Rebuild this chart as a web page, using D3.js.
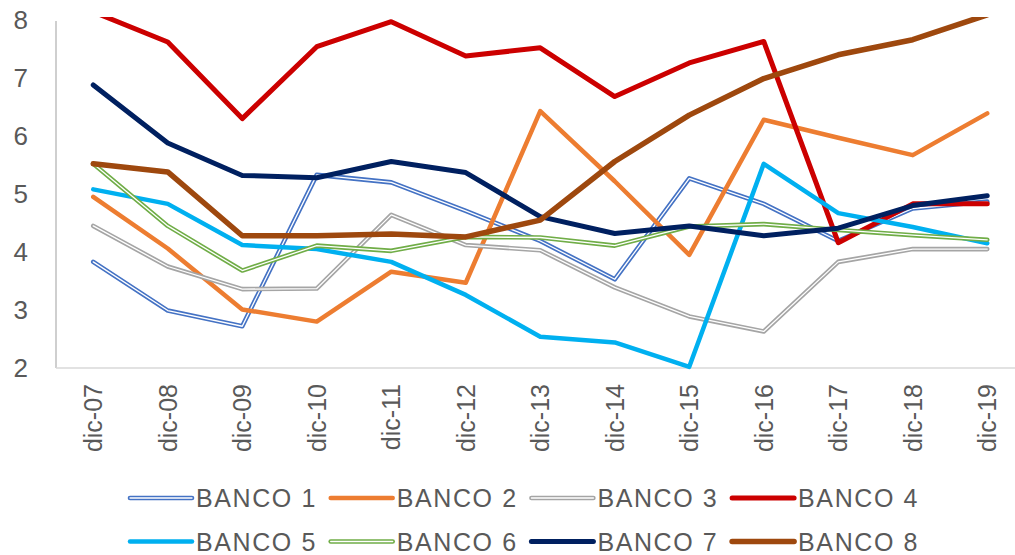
<!DOCTYPE html>
<html>
<head>
<meta charset="utf-8">
<script src="https://cdn.jsdelivr.net/npm/d3@7"></script>
<style>
  html, body { margin: 0; padding: 0; background: #fff; }
  svg { display: block; font-family: "Liberation Sans", Arial, sans-serif; }
</style>
</head>
<body>
<svg id="chart" width="1015" height="555"></svg>
<script>
// Periods (December of each year)
const periods = ["dic-07","dic-08","dic-09","dic-10","dic-11","dic-12","dic-13",
                 "dic-14","dic-15","dic-16","dic-17","dic-18","dic-19"];
const yTicks = [2, 3, 4, 5, 6, 7, 8];

const banco1 = [3.83, 2.99, 2.72, 5.33, 5.20, 4.71, 4.19, 3.53, 5.27, 4.83, 4.19, 4.75, 4.87];
const banco2 = [4.95, 4.06, 3.01, 2.80, 3.66, 3.47, 6.43, 5.22, 3.95, 6.28, 5.97, 5.67, 6.39];
const banco3 = [4.45, 3.75, 3.36, 3.37, 4.64, 4.12, 4.03, 3.39, 2.89, 2.63, 3.83, 4.05, 4.05];
const banco4 = [8.14, 7.62, 6.30, 7.54, 7.97, 7.38, 7.52, 6.68, 7.26, 7.63, 4.16, 4.83, 4.83];
const banco5 = [5.08, 4.83, 4.12, 4.05, 3.83, 3.26, 2.54, 2.44, 2.02, 5.52, 4.67, 4.43, 4.15];
const banco6 = [5.52, 4.45, 3.68, 4.11, 4.02, 4.26, 4.25, 4.11, 4.44, 4.48, 4.38, 4.29, 4.21];
const banco7 = [6.88, 5.88, 5.32, 5.28, 5.56, 5.37, 4.61, 4.32, 4.45, 4.28, 4.41, 4.80, 4.97];
const banco8 = [5.52, 5.38, 4.28, 4.28, 4.31, 4.26, 4.55, 5.56, 6.36, 6.99, 7.40, 7.66, 8.09];

const series = [
  { name: "BANCO 1", values: banco1, color: "#4472C4", width: 4.6, double: true },
  { name: "BANCO 2", values: banco2, color: "#ED7D31", width: 4.5 },
  { name: "BANCO 3", values: banco3, color: "#A5A5A5", width: 4.6, double: true },
  { name: "BANCO 4", values: banco4, color: "#CC0000", width: 5 },
  { name: "BANCO 5", values: banco5, color: "#00B0F0", width: 4.5 },
  { name: "BANCO 6", values: banco6, color: "#70AD47", width: 4.6, double: true },
  { name: "BANCO 7", values: banco7, color: "#002060", width: 5 },
  { name: "BANCO 8", values: banco8, color: "#9E480E", width: 5.5 }
];

const svg = d3.select("#chart");
const plot = { left: 56, right: 1024.5, top: 20, bottom: 368 };

const x = d3.scaleBand().domain(periods).range([plot.left, plot.right]).padding(0);
const y = d3.scaleLinear().domain([2, 8]).range([plot.bottom, plot.top]);
const cx = d => x(d) + x.bandwidth() / 2;

// Clip lines to the plot area (slightly above the top tick)
svg.append("defs").append("clipPath").attr("id", "plotClip")
  .append("rect")
  .attr("x", plot.left).attr("y", plot.top - 3)
  .attr("width", plot.right - plot.left).attr("height", plot.bottom - plot.top + 10);

// Y axis
const yAxis = svg.append("g")
  .attr("transform", `translate(${plot.left},0)`)
  .call(d3.axisLeft(y).tickValues(yTicks).tickSize(0).tickPadding(28).tickFormat(d3.format("d")));
yAxis.select(".domain").attr("stroke", "#bfbfbf").attr("stroke-width", 1.5)
  .attr("d", `M0,${plot.top + 1}V${plot.bottom}`);
yAxis.selectAll("text").attr("fill", "#595959").style("font-size", "26px")
  .attr("font-family", "Liberation Sans, Arial, sans-serif");

// X axis
const xAxis = svg.append("g")
  .attr("transform", `translate(0,${plot.bottom})`)
  .call(d3.axisBottom(x).tickSize(0).tickPadding(0));
xAxis.select(".domain").attr("stroke", "#d9d9d9").attr("stroke-width", 1.5)
  .attr("d", `M${plot.left},0H1015`);
xAxis.selectAll("text")
  .attr("fill", "#595959").style("font-size", "25px")
  .attr("font-family", "Liberation Sans, Arial, sans-serif")
  .attr("text-anchor", "end")
  .attr("dy", null)
  .attr("y", 0)
  .attr("transform", "translate(9,16) rotate(-90)");

// Lines
const line = d3.line().x((d, i) => cx(periods[i])).y(d => y(d));
const lines = svg.append("g").attr("clip-path", "url(#plotClip)");
series.forEach(s => {
  lines.append("path")
    .attr("d", line(s.values))
    .attr("fill", "none")
    .attr("stroke", s.color)
    .attr("stroke-width", s.width)
    .attr("stroke-linejoin", "round")
    .attr("stroke-linecap", "round");
  if (s.double) {
    lines.append("path")
      .attr("d", line(s.values))
      .attr("fill", "none")
      .attr("stroke", "#fff")
      .attr("stroke-width", 1.3)
      .attr("stroke-linejoin", "round")
      .attr("stroke-linecap", "round");
  }
});

// Legend: two rows of four entries
const legend = svg.append("g");
series.forEach((s, i) => {
  const col = i % 4, row = Math.floor(i / 4);
  const gx = 130 + col * 200.7, gy = 498 + row * 43.5;
  const g = legend.append("g").attr("transform", `translate(${gx},${gy})`);
  g.append("line").attr("x1", 0).attr("x2", 62).attr("y1", 0).attr("y2", 0)
    .attr("stroke", s.color).attr("stroke-width", s.width).attr("stroke-linecap", "round");
  if (s.double) {
    g.append("line").attr("x1", 0).attr("x2", 62).attr("y1", 0).attr("y2", 0)
      .attr("stroke", "#fff").attr("stroke-width", 1.3).attr("stroke-linecap", "round");
  }
  g.append("text").attr("x", 66).attr("y", 9)
    .attr("fill", "#595959").style("font-size", "25px").style("letter-spacing", "1.6px")
    .text(s.name);
});
</script>
</body>
</html>
